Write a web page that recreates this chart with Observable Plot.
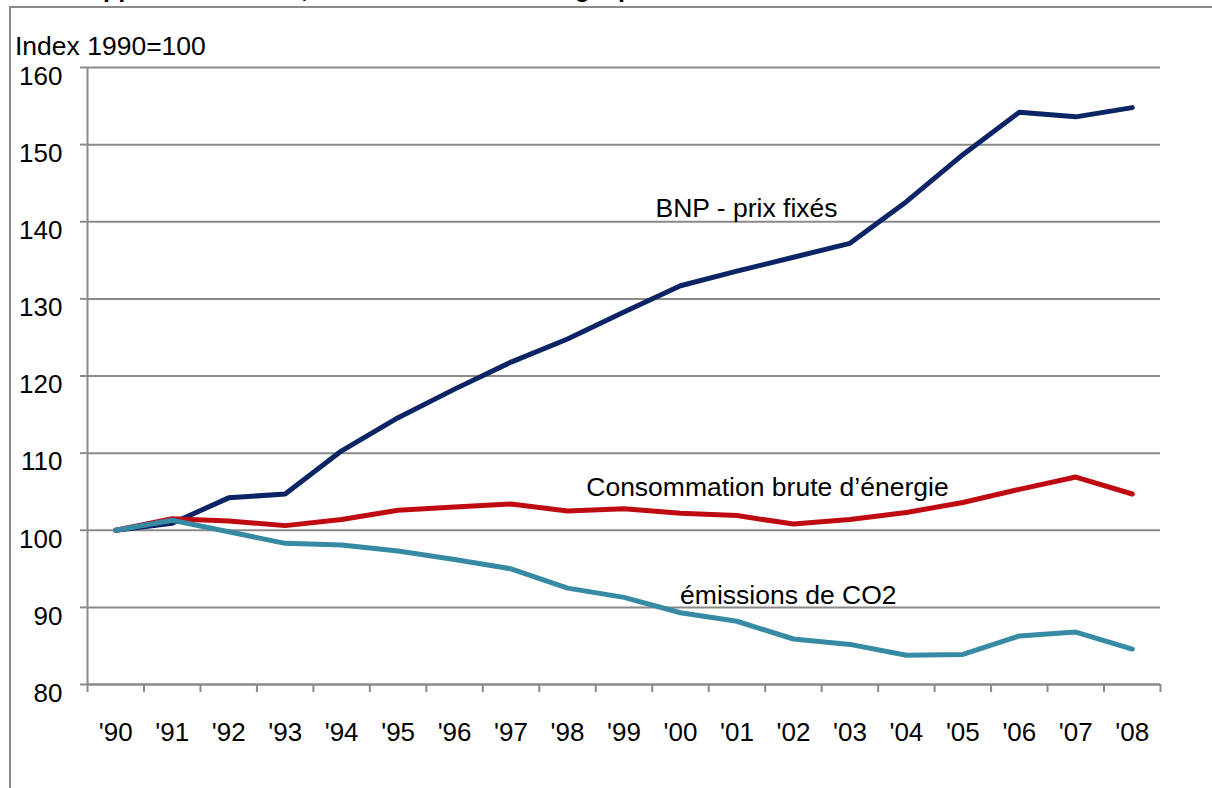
<!DOCTYPE html>
<html>
<head>
<meta charset="utf-8">
<script src="https://cdn.jsdelivr.net/npm/d3@7"></script>
<script src="https://cdn.jsdelivr.net/npm/@observablehq/plot@0.6"></script>
<style>
  html, body { margin: 0; padding: 0; background: #fff; overflow: hidden; }
  #wrap { position: relative; width: 1212px; height: 788px; overflow: hidden; font-family: "Liberation Sans", Arial, sans-serif; }
  #title { position: absolute; left: 21px; top: -24px; font-weight: bold; font-size: 25px; line-height: 25px; white-space: nowrap; color: #000; }
  #frame { position: absolute; left: 9px; top: 6px; right: -5px; bottom: -5px; border-left: 2px solid #8a8a8a; border-top: 2px solid #8a8a8a; }
  #ylabel { position: absolute; left: 15px; top: 33px; font-size: 26.5px; line-height: 26px; color: #000; }
  #chart { position: absolute; left: 0; top: 0; }
</style>
</head>
<body>
<div id="wrap">
  <div id="title">Développement du BNP, consommation d’énergie primaire et émissions de CO2</div>
  <div id="frame"></div>
  <div id="ylabel">Index 1990=100</div>
  <div id="chart"></div>
</div>
<script>
const years = [1990, 1991, 1992, 1993, 1994, 1995, 1996, 1997, 1998, 1999, 2000, 2001, 2002, 2003, 2004, 2005, 2006, 2007, 2008];
const bnp    = [100, 100.9, 104.2, 104.7, 110.3, 114.6, 118.3, 121.8, 124.8, 128.3, 131.7, 133.6, 135.4, 137.2, 142.6, 148.7, 154.2, 153.6, 154.8];
const energy = [100, 101.5, 101.2, 100.6, 101.4, 102.6, 103.0, 103.4, 102.5, 102.8, 102.2, 101.9, 100.8, 101.4, 102.3, 103.6, 105.3, 106.9, 104.7];
const co2    = [100, 101.3, 99.8, 98.3, 98.1, 97.3, 96.2, 95.0, 92.5, 91.3, 89.3, 88.2, 85.9, 85.2, 83.8, 83.9, 86.3, 86.8, 84.6];
const seriesNames = ["BNP - prix fixés", "Consommation brute d’énergie", "émissions de CO2"];
const seriesColors = ["#0b2465", "#bf0a12", "#378aa3"];
const yTicks = [80, 90, 100, 110, 120, 130, 140, 150, 160];
const yearLabels = ["'90", "'91", "'92", "'93", "'94", "'95", "'96", "'97", "'98", "'99", "'00", "'01", "'02", "'03", "'04", "'05", "'06", "'07", "'08"];
// label anchor points in data units (year, index)
const labelX = [2001.17, 2001.54, 2001.91];
const labelY = [140.6, 104.5, 90.4];

const seriesValues = [bnp, energy, co2];
const data = seriesValues.flatMap((vals, s) => vals.map((v, i) => ({year: years[i], value: v, series: seriesNames[s]})));
const labels = seriesNames.map((name, i) => ({name, x: labelX[i], y: labelY[i]}));
const bandEdges = years.map(y => y - 0.5).concat([years[years.length - 1] + 0.5]);
const gray = "#8a8a8a";

const chart = Plot.plot({
  width: 1212,
  height: 788,
  marginLeft: 87,
  marginRight: 52,
  marginTop: 67,
  marginBottom: 104,
  style: {fontFamily: "'Liberation Sans', Arial, sans-serif", fontSize: "26px", color: "#000", background: "transparent", overflow: "visible"},
  x: {type: "linear", domain: [bandEdges[0], bandEdges[bandEdges.length - 1]]},
  y: {domain: [80, 160]},
  color: {domain: seriesNames, range: seriesColors},
  marks: [
    Plot.gridY(yTicks, {stroke: gray, strokeOpacity: 1, strokeWidth: 2}),
    Plot.axisY(yTicks, {tickSize: 7, tickFormat: () => "", stroke: gray, strokeWidth: 2, label: null}),
    Plot.axisY(yTicks, {tickSize: 0, tickPadding: 25, dy: 9, label: null, fontSize: 26}),
    Plot.ruleX([bandEdges[0]], {stroke: gray, strokeWidth: 2}),
    Plot.ruleY([80], {stroke: gray, strokeWidth: 2}),
    Plot.axisX(bandEdges, {tickSize: 8, tickFormat: () => "", stroke: gray, strokeWidth: 2, label: null}),
    Plot.axisX(years, {tickSize: 0, tickPadding: 38, tickFormat: (d) => yearLabels[years.indexOf(d)], label: null, fontSize: 26}),
    Plot.lineY(data, {x: "year", y: "value", z: "series", stroke: "series", strokeWidth: 5, strokeLinecap: "round", strokeLinejoin: "round"}),
    Plot.text(labels, {x: "x", y: "y", text: "name", lineAnchor: "bottom", textAnchor: "middle", fontSize: 26.5, fill: "#000"})
  ]
});
document.getElementById("chart").appendChild(chart);
</script>
</body>
</html>
